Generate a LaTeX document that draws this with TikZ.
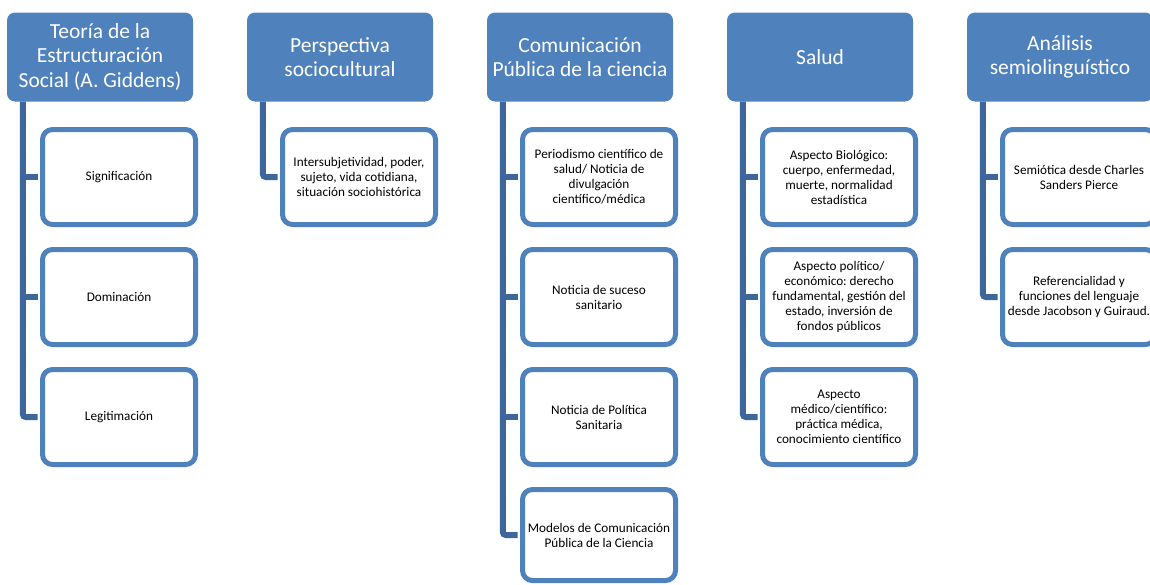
\documentclass[tikz,border=0pt]{standalone}
\usepackage{fontspec}
\setmainfont{Carlito}
\usepackage{xcolor}
\definecolor{headblue}{HTML}{4F81BD}
\definecolor{linkblue}{HTML}{3D679A}
\frenchspacing

\begin{document}
\begin{tikzpicture}[x=1pt, y=-1pt,
    head/.style={fill=headblue, text=white, rounded corners=8pt, align=center,
      minimum width=186pt, minimum height=89pt, inner sep=2pt,
      font=\fontsize{21.5}{24.5}\selectfont},
    item/.style={draw=headblue, fill=white, line width=5pt, rounded corners=10pt,
      align=center, minimum width=153pt, minimum height=95pt, inner sep=1pt,
      font=\fontsize{13.2}{15}\selectfont},
    link/.style={draw=linkblue, line width=6pt, rounded corners=3pt}]
  \clip (0,0) rectangle (1150,584);

  % column headers
  \node[head] (h1) at (100,57) {Teoría de la\\Estructuración\\Social (A. Giddens)};
  \node[head] (h2) at (340,57) {Perspectiva\\sociocultural};
  \node[head] (h3) at (580,57) {Comunicación\\Pública de la ciencia};
  \node[head] (h4) at (820,57) {Salud};
  \node[head] (h5) at (1060,57) {Análisis\\semiolinguístico};

  % boxes
  \node[item] (c11) at (119,177) {Significación};
  \node[item] (c12) at (119,297) {Dominación};
  \node[item] (c13) at (119,417) {Legitimación};

  \node[item] (c21) at (359,177) {Intersubjetividad, poder,\\sujeto, vida cotidiana,\\situación sociohistórica};

  \node[item] (c31) at (599,177) {Periodismo científico de\\salud/ Noticia de\\divulgación\\científico/médica};
  \node[item] (c32) at (599,297) {Noticia de suceso\\sanitario};
  \node[item] (c33) at (599,417) {Noticia de Política\\Sanitaria};
  \node[item, minimum height=91pt] (c34) at (599,535) {Modelos de Comunicación\\Pública de la Ciencia};

  \node[item] (c41) at (839,177) {Aspecto Biológico:\\cuerpo, enfermedad,\\muerte, normalidad\\estadística};
  \node[item] (c42) at (839,297) {Aspecto político/\\económico: derecho\\fundamental, gestión del\\estado, inversión de\\fondos públicos};
  \node[item] (c43) at (839,417) {Aspecto\\médico/científico:\\práctica médica,\\conocimiento científico};

  \node[item] (c51) at (1079,177) {Semiótica desde Charles\\Sanders Pierce};
  \node[item] (c52) at (1079,297) {Referencialidad y\\funciones del lenguaje\\desde Jacobson y Guiraud.};

  % connectors
  \draw[link] ([xshift=16pt]h1.south west) |- ([xshift=-2.5pt]c13.west);
  \draw[link] ([xshift=16pt]h1.south west |- c11.west) -- ([xshift=-2.5pt]c11.west);
  \draw[link] ([xshift=16pt]h1.south west |- c12.west) -- ([xshift=-2.5pt]c12.west);

  \draw[link] ([xshift=16pt]h2.south west) |- ([xshift=-2.5pt]c21.west);

  \draw[link] ([xshift=16pt]h3.south west) |- ([xshift=-2.5pt]c34.west);
  \draw[link] ([xshift=16pt]h3.south west |- c31.west) -- ([xshift=-2.5pt]c31.west);
  \draw[link] ([xshift=16pt]h3.south west |- c32.west) -- ([xshift=-2.5pt]c32.west);
  \draw[link] ([xshift=16pt]h3.south west |- c33.west) -- ([xshift=-2.5pt]c33.west);

  \draw[link] ([xshift=16pt]h4.south west) |- ([xshift=-2.5pt]c43.west);
  \draw[link] ([xshift=16pt]h4.south west |- c41.west) -- ([xshift=-2.5pt]c41.west);
  \draw[link] ([xshift=16pt]h4.south west |- c42.west) -- ([xshift=-2.5pt]c42.west);

  \draw[link] ([xshift=16pt]h5.south west) |- ([xshift=-2.5pt]c52.west);
  \draw[link] ([xshift=16pt]h5.south west |- c51.west) -- ([xshift=-2.5pt]c51.west);
\end{tikzpicture}
\end{document}
